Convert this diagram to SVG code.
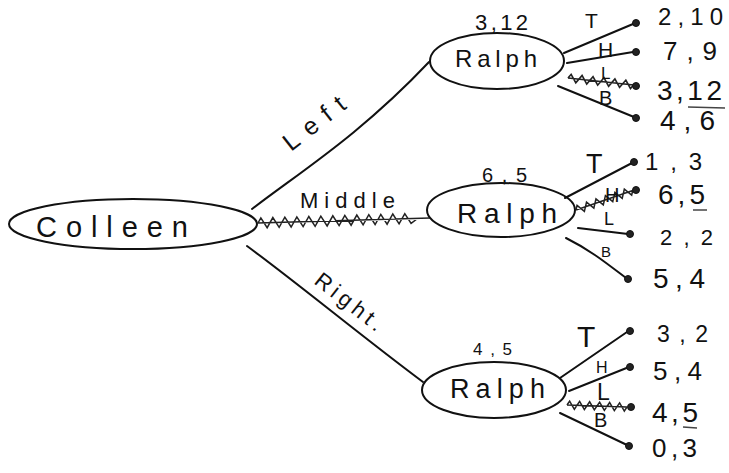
<svg xmlns="http://www.w3.org/2000/svg" width="729" height="473" viewBox="0 0 729 473">
<style>
.node{fill:none;stroke:#111;stroke-width:2}
.edge{fill:none;stroke:#111;stroke-width:2;stroke-linecap:round}
.zz{fill:none;stroke:#222;stroke-width:1.5;stroke-linejoin:miter}
.name{font-family:"Liberation Sans",Arial,sans-serif;fill:#111}
.lbl{font-family:"Liberation Sans",Arial,sans-serif;fill:#111}
.pay{font-family:"Liberation Sans",Arial,sans-serif;fill:#111}
.dot{fill:#222;stroke:#111;stroke-width:1}
.ul{stroke:#444;stroke-width:1.5}
</style>
<defs>
<path id="zz60" d="M0,0 H60 M0,0 l2.5,-4 l5,8 l5,-8 l5,8 l5,-8 l5,8 l5,-8 l5,8 l5,-8 l5,8 l5,-8 l5,8 l2.5,-4"/>
</defs>
<g id="connectors">
<path class="edge" d="M252,209 C300,172 360,135 429,62"/>
<g transform="translate(258,223) rotate(-1.7)" class="zz">
<path d="M0,0 H172 M0,0 l3,-5 l6,10 l6,-10 l6,10 l6,-10 l6,10 l6,-10 l6,10 l6,-10 l6,10 l6,-10 l6,10 l6,-10 l6,10 l6,-10 l6,10 l6,-10 l6,10 l6,-10 l6,10 l6,-10 l6,10 l6,-10 l6,10 l6,-10 l6,10 l7,-5"/>
</g>
<path class="edge" d="M247,246 C300,285 360,335 423,382"/>
<text class="lbl" transform="translate(291,152) rotate(-38)" font-size="25" textLength="72" lengthAdjust="spacing">Left</text>
<text class="lbl" x="300" y="208" font-size="22" textLength="95" lengthAdjust="spacing">Middle</text>
<text class="lbl" transform="translate(313,283) rotate(38)" font-size="22" textLength="80" lengthAdjust="spacing">Right.</text>

<!-- top Ralph leaves -->
<path class="edge" d="M564,53 L633,24"/>
<path class="edge" d="M567,63 L633,52"/>
<use href="#zz60" class="zz" transform="translate(568,78) rotate(6) scale(1.1,1)"/>
<path class="edge" d="M558,86 L634,117"/>
<circle class="dot" cx="636" cy="23" r="3.5"/>
<circle class="dot" cx="636" cy="52" r="3.5"/>
<circle class="dot" cx="636" cy="86" r="3.5"/>
<circle class="dot" cx="636" cy="118" r="3.5"/>
<text class="lbl" x="585" y="28" font-size="21">T</text>
<text class="lbl" x="598" y="57" font-size="21">H</text>
<text class="lbl" x="601" y="79" font-size="17">L</text>
<text class="lbl" x="599" y="105" font-size="20">B</text>

<!-- middle Ralph leaves -->
<path class="edge" d="M565,198 L632,163"/>
<use href="#zz60" class="zz" transform="translate(576,210) rotate(-19)"/>
<path class="edge" d="M578,228 L628,234"/>
<path class="edge" d="M566,238 C590,250 605,262 626,278"/>
<circle class="dot" cx="634" cy="162" r="3.5"/>
<circle class="dot" cx="636" cy="190" r="3.5"/>
<circle class="dot" cx="630" cy="234" r="3.5"/>
<circle class="dot" cx="628" cy="279" r="3.5"/>
<text class="lbl" x="586" y="173" font-size="27">T</text>
<text class="lbl" x="605" y="202" font-size="20">H</text>
<text class="lbl" x="604" y="225" font-size="18">L</text>
<text class="lbl" x="601" y="257" font-size="15">B</text>

<!-- bottom Ralph leaves -->
<path class="edge" d="M560,378 L627,332"/>
<path class="edge" d="M569,391 L629,367"/>
<use href="#zz60" class="zz" transform="translate(567,405) rotate(2)"/>
<path class="edge" d="M560,413 L627,445"/>
<circle class="dot" cx="630" cy="331" r="3.5"/>
<circle class="dot" cx="630" cy="367" r="3.5"/>
<circle class="dot" cx="631" cy="407" r="3.5"/>
<circle class="dot" cx="629" cy="446" r="3.5"/>
<text class="lbl" x="577" y="347" font-size="30">T</text>
<text class="lbl" x="596" y="373" font-size="16">H</text>
<text class="lbl" x="597" y="400" font-size="23">L</text>
<text class="lbl" x="594" y="427" font-size="20">B</text>
</g>

<g id="colleen">
<ellipse class="node" cx="133" cy="224" rx="124" ry="25"/>
<text class="name" x="36" y="237" font-size="29" textLength="152" lengthAdjust="spacing">Colleen</text>
</g>

<g id="ralph-top">
<ellipse class="node" cx="497" cy="61" rx="67" ry="28"/>
<text class="name" x="455" y="67" font-size="24" textLength="82" lengthAdjust="spacing">Ralph</text>
<text class="lbl" x="475" y="30" font-size="22" textLength="53" lengthAdjust="spacing">3,12</text>
</g>

<g id="ralph-middle">
<ellipse class="node" cx="501" cy="210" rx="74" ry="27"/>
<text class="name" x="457" y="223" font-size="28" textLength="100" lengthAdjust="spacing">Ralph</text>
<text class="lbl" x="482" y="182" font-size="20" textLength="45" lengthAdjust="spacing">6,5</text>
</g>

<g id="ralph-bottom">
<ellipse class="node" cx="494" cy="390" rx="72" ry="28"/>
<text class="name" x="450" y="398" font-size="27" textLength="95" lengthAdjust="spacing">Ralph</text>
<text class="lbl" x="473" y="355" font-size="17" textLength="39" lengthAdjust="spacing">4,5</text>
</g>

<g id="payoffs">
<text class="pay" x="658" y="25" font-size="24" textLength="65" lengthAdjust="spacing">2,10</text>
<text class="pay" x="663" y="60" font-size="26" textLength="54" lengthAdjust="spacing">7,9</text>
<text class="pay" x="657" y="100" font-size="28" textLength="65" lengthAdjust="spacing">3,12</text>
<line class="ul" x1="688" y1="107" x2="725" y2="108"/>
<text class="pay" x="660" y="130" font-size="28" textLength="55" lengthAdjust="spacing">4,6</text>

<text class="pay" x="645" y="170" font-size="24" textLength="57" lengthAdjust="spacing">1,3</text>
<text class="pay" x="658" y="204" font-size="28" textLength="47" lengthAdjust="spacing">6,5</text>
<line class="ul" x1="693" y1="210" x2="707" y2="210"/>
<text class="pay" x="660" y="245" font-size="22" textLength="53" lengthAdjust="spacing">2,2</text>
<text class="pay" x="653" y="288" font-size="28" textLength="52" lengthAdjust="spacing">5,4</text>

<text class="pay" x="657" y="342" font-size="23" textLength="51" lengthAdjust="spacing">3,2</text>
<text class="pay" x="653" y="380" font-size="26" textLength="49" lengthAdjust="spacing">5,4</text>
<text class="pay" x="652" y="422" font-size="28" textLength="46" lengthAdjust="spacing">4,5</text>
<line class="ul" x1="683" y1="427" x2="697" y2="428"/>
<text class="pay" x="652" y="457" font-size="26" textLength="45" lengthAdjust="spacing">0,3</text>
</g>
</svg>
